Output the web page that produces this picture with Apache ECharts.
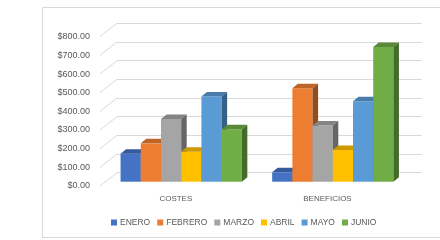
<!DOCTYPE html>
<html>
<head>
<meta charset="utf-8">
<script src="https://cdn.jsdelivr.net/npm/echarts@6/dist/echarts.min.js"></script>
<style>
  html, body { margin: 0; padding: 0; background: #fff; }
  #chart { width: 440px; height: 240px; }
</style>
</head>
<body>
<div id="chart"></div>
<script>
// datos
var categorias = ['COSTES', 'BENEFICIOS'];
var meses = ['ENERO', 'FEBRERO', 'MARZO', 'ABRIL', 'MAYO', 'JUNIO'];
var enero   = [150, 50];
var febrero = [205, 500];
var marzo   = [335, 300];
var abril   = [160, 170];
var mayo    = [455, 430];
var junio   = [280, 720];
var ticksY  = [0, 100, 200, 300, 400, 500, 600, 700, 800];

var valores = [enero, febrero, marzo, abril, mayo, junio];
var colores = ['#4472C4', '#ED7D31', '#A5A5A5', '#FFC000', '#5B9BD5', '#70AD47'];

// profundidad de las barras y de la pared lateral (px)
var dx = 5.5, dy = 4.5;
var paredX = 17, paredY = 13.3;

function oscurecer(hex, f) {
	var n = parseInt(hex.slice(1), 16);
	var r = Math.round(((n >> 16) & 255) * f);
	var g = Math.round(((n >> 8) & 255) * f);
	var b = Math.round((n & 255) * f);
	return 'rgb(' + r + ',' + g + ',' + b + ')';
}

// lineas diagonales de la pared izquierda
function dibujarPared(params, api) {
	var p = api.coord([0, api.value(0)]);
	var x = params.coordSys.x;
	return {
		type: 'line',
		shape: { x1: x, y1: p[1], x2: x - paredX, y2: p[1] + paredY },
		style: { stroke: '#d9d9d9', lineWidth: 1 }
	};
}

function hacerBarra(i) {
	return function(params, api) {
		var cat = api.value(0), val = api.value(1);
		var banda = api.size([1, 0])[0];
		var w = banda * 0.8 / meses.length;
		var base = api.coord([cat, 0]);
		var tope = api.coord([cat, val]);
		var x0 = base[0] - banda * 0.4 + i * w;
		var x1 = x0 + w;
		var b = base[1], t = tope[1];
		var c = colores[i];
		return {
			type: 'group',
			children: [{
				type: 'rect',
				shape: { x: x0, y: t, width: w, height: b - t },
				style: { fill: c }
			}, {
				type: 'polygon',
				shape: { points: [[x0, t], [x0 + dx, t - dy], [x1 + dx, t - dy], [x1, t]] },
				style: { fill: oscurecer(c, 0.8) }
			}, {
				type: 'polygon',
				shape: { points: [[x1, t], [x1 + dx, t - dy], [x1 + dx, b - dy], [x1, b]] },
				style: { fill: oscurecer(c, 0.62) }
			}]
		};
	};
}

var series = [{
	type: 'custom',
	xAxisIndex: 0,
	yAxisIndex: 0,
	renderItem: dibujarPared,
	data: ticksY.map(function(v) { return [v]; }),
	silent: true,
	z: 1
}];
for (var i = 0; i < meses.length; i++) {
	series.push({
		name: meses[i],
		type: 'custom',
		xAxisIndex: 1,
		yAxisIndex: 1,
		renderItem: hacerBarra(i),
		itemStyle: { color: colores[i] },
		data: valores[i].map(function(v, k) { return [k, v]; }),
		z: 3
	});
}

var myChart = echarts.init(document.getElementById('chart'));
var option = {
	backgroundColor: '#fff',
	animation: false,
	graphic: [{
		type: 'rect',
		shape: { x: 42.5, y: 7.5, width: 420, height: 230 },
		style: { fill: 'none', stroke: '#d9d9d9', lineWidth: 1 },
		z: 0
	}],
	legend: {
		data: meses,
		left: 106,
		top: 213,
		icon: 'rect',
		itemWidth: 6,
		itemHeight: 6,
		itemGap: 7,
		textStyle: { color: '#595959', fontSize: 8.5, fontFamily: 'Liberation Sans', padding: [0, 0, 0, -2] }
	},
	grid: [
		// pared del fondo
		{ left: 117, right: 18.3, top: 23.3, height: 149.4 },
		// plano frontal de las barras
		{ left: 105.4, right: 31.4, top: 32.1, height: 149.6 },
		// plano de las etiquetas
		{ left: 100, right: 36.7, top: 36.7, height: 149.3 }
	],
	xAxis: [
		{ type: 'category', gridIndex: 0, data: categorias, show: false },
		{ type: 'category', gridIndex: 1, data: categorias, show: false },
		{
			type: 'category', gridIndex: 2, data: categorias,
			axisLine: { show: false }, axisTick: { show: false },
			axisLabel: { color: '#595959', fontSize: 8, fontFamily: 'Liberation Sans', margin: 9 }
		}
	],
	yAxis: [
		{
			type: 'value', gridIndex: 0, min: 0, max: 800, interval: 100,
			axisLabel: { show: false }, axisLine: { show: false }, axisTick: { show: false },
			splitLine: { lineStyle: { color: '#d9d9d9', width: 1 } }
		},
		{ type: 'value', gridIndex: 1, min: 0, max: 800, interval: 100, show: false },
		{
			type: 'value', gridIndex: 2, min: 0, max: 800, interval: 100,
			axisLine: { show: false }, axisTick: { show: false }, splitLine: { show: false },
			axisLabel: {
				color: '#595959', fontSize: 9, fontFamily: 'Liberation Sans', margin: 10,
				formatter: function(v) { return '$' + v.toFixed(2); }
			}
		}
	],
	series: series
};
myChart.setOption(option);
</script>
</body>
</html>
